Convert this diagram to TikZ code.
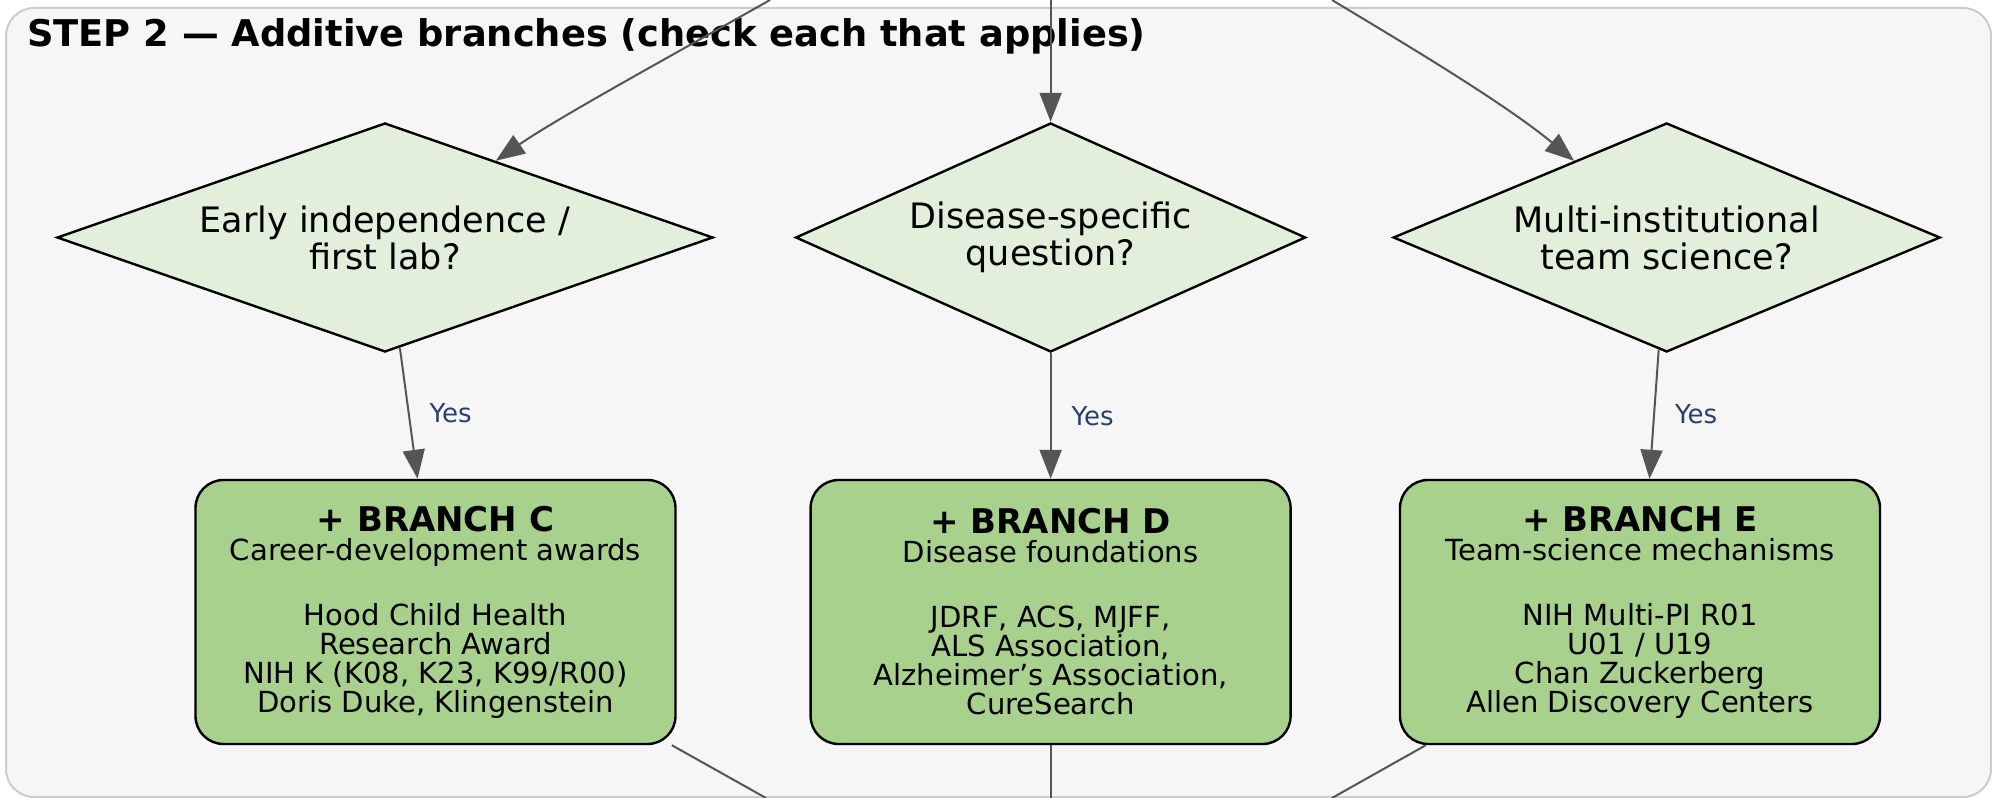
\documentclass[tikz,border=0pt]{standalone}
\usepackage{fontspec}
\setmainfont{DejaVu Sans}
\usepackage{tikz}
\usetikzlibrary{shapes.geometric, arrows.meta}
\usepackage{xcolor}
\definecolor{clusterfill}{HTML}{F6F6F6}
\definecolor{clusterline}{HTML}{CCCCCC}
\definecolor{qfill}{HTML}{E2EFDA}
\definecolor{brfill}{HTML}{A9D18E}
\definecolor{edgegray}{HTML}{555555}
\definecolor{yesblue}{HTML}{2B3F6E}

\begin{document}
\begin{tikzpicture}[x=0.75pt,y=0.75pt,yscale=-1,xscale=1,
  question/.style={diamond, draw=black, line width=1.8pt, fill=qfill, inner sep=0pt, align=center, minimum height=171.75pt, font=\fontsize{26.25}{27.75}\selectfont},
  branch/.style={rectangle, rounded corners=21pt, draw=black, line width=1.8pt, fill=brfill, minimum width=360pt, minimum height=198pt, align=center, font=\fontsize{21.8}{21.75}\selectfont},
  flow/.style={draw=edgegray, line width=1.5pt, -{Triangle[length=21.75pt,width=16.5pt]}},
  exit/.style={draw=edgegray, line width=1.5pt},
  yes/.style={right, xshift=15pt, inner sep=0pt, text=yesblue, font=\fontsize{19.5}{20}\selectfont}
]
\useasboundingbox (0,0) rectangle (1992,798);

%Shape: Cluster
\draw [draw=clusterline, line width=1.5pt, fill=clusterfill, rounded corners=21pt] (6,8) rectangle (1991,797);

% Text Node
\node [anchor=base west, inner sep=0pt, font=\bfseries\fontsize{27.6}{30}\selectfont] (title) at (27,47) {STEP 2 — Additive branches (check each that applies)};

%Shape: Diamonds
\node [question, aspect=2.9, minimum width=492pt] (qC) at (385,237.5) {Early independence /\\first lab?};
\node [question, aspect=2.2, minimum width=382.5pt] (qD) at (1050.6,237.5) {Disease-specific\\question?};
\node [question, aspect=2.4, minimum width=410.25pt] (qE) at (1666.7,237.5) {Multi-institutional\\team science?};

%Shape: Branch boxes
\node [branch] (brC) at (435.5,612) {{\bfseries\fontsize{25.5}{26}\selectfont + BRANCH C}\\Career-development awards\\[27pt]Hood Child Health\\Research Award\\NIH K (K08, K23, K99/R00)\\Doris Duke, Klingenstein};
\node [branch] (brD) at (1050.6,612) {{\bfseries\fontsize{25.5}{26}\selectfont + BRANCH D}\\Disease foundations\\[27pt]JDRF, ACS, MJFF,\\ALS Association,\\Alzheimer’s Association,\\CureSearch};
\node [branch] (brE) at (1640,612) {{\bfseries\fontsize{25.5}{26}\selectfont + BRANCH E}\\Team-science mechanisms\\[27pt]NIH Multi-PI R01\\U01 / U19\\Chan Zuckerberg\\Allen Discovery Centers};

%Free ends
\coordinate (inC) at (770,0);
\coordinate (inD) at (1050.6,0);
\coordinate (inE) at (1332,0);
\coordinate (outC) at (766,798);
\coordinate (outD) at (1050.6,798);
\coordinate (outE) at (1332,798);

%Straight Lines and curves
\draw [flow] (inC) .. controls (680,51) and (559,117) .. (qC);
\draw [flow] (inD) -- (qD);
\draw [flow] (inE) .. controls (1400,41) and (1503,102) .. (qE);
\draw [flow] (qC) -- node [yes, midway] {Yes} (brC);
\draw [flow] (qD) -- node [yes, midway] {Yes} (brD);
\draw [flow] (qE) -- node [yes, midway] {Yes} (brE);
\draw [exit] (brC) -- (outC);
\draw [exit] (brD) -- (outD);
\draw [exit] ([xshift=20.25pt]brE.south west) -- (outE);

\end{tikzpicture}
\end{document}
